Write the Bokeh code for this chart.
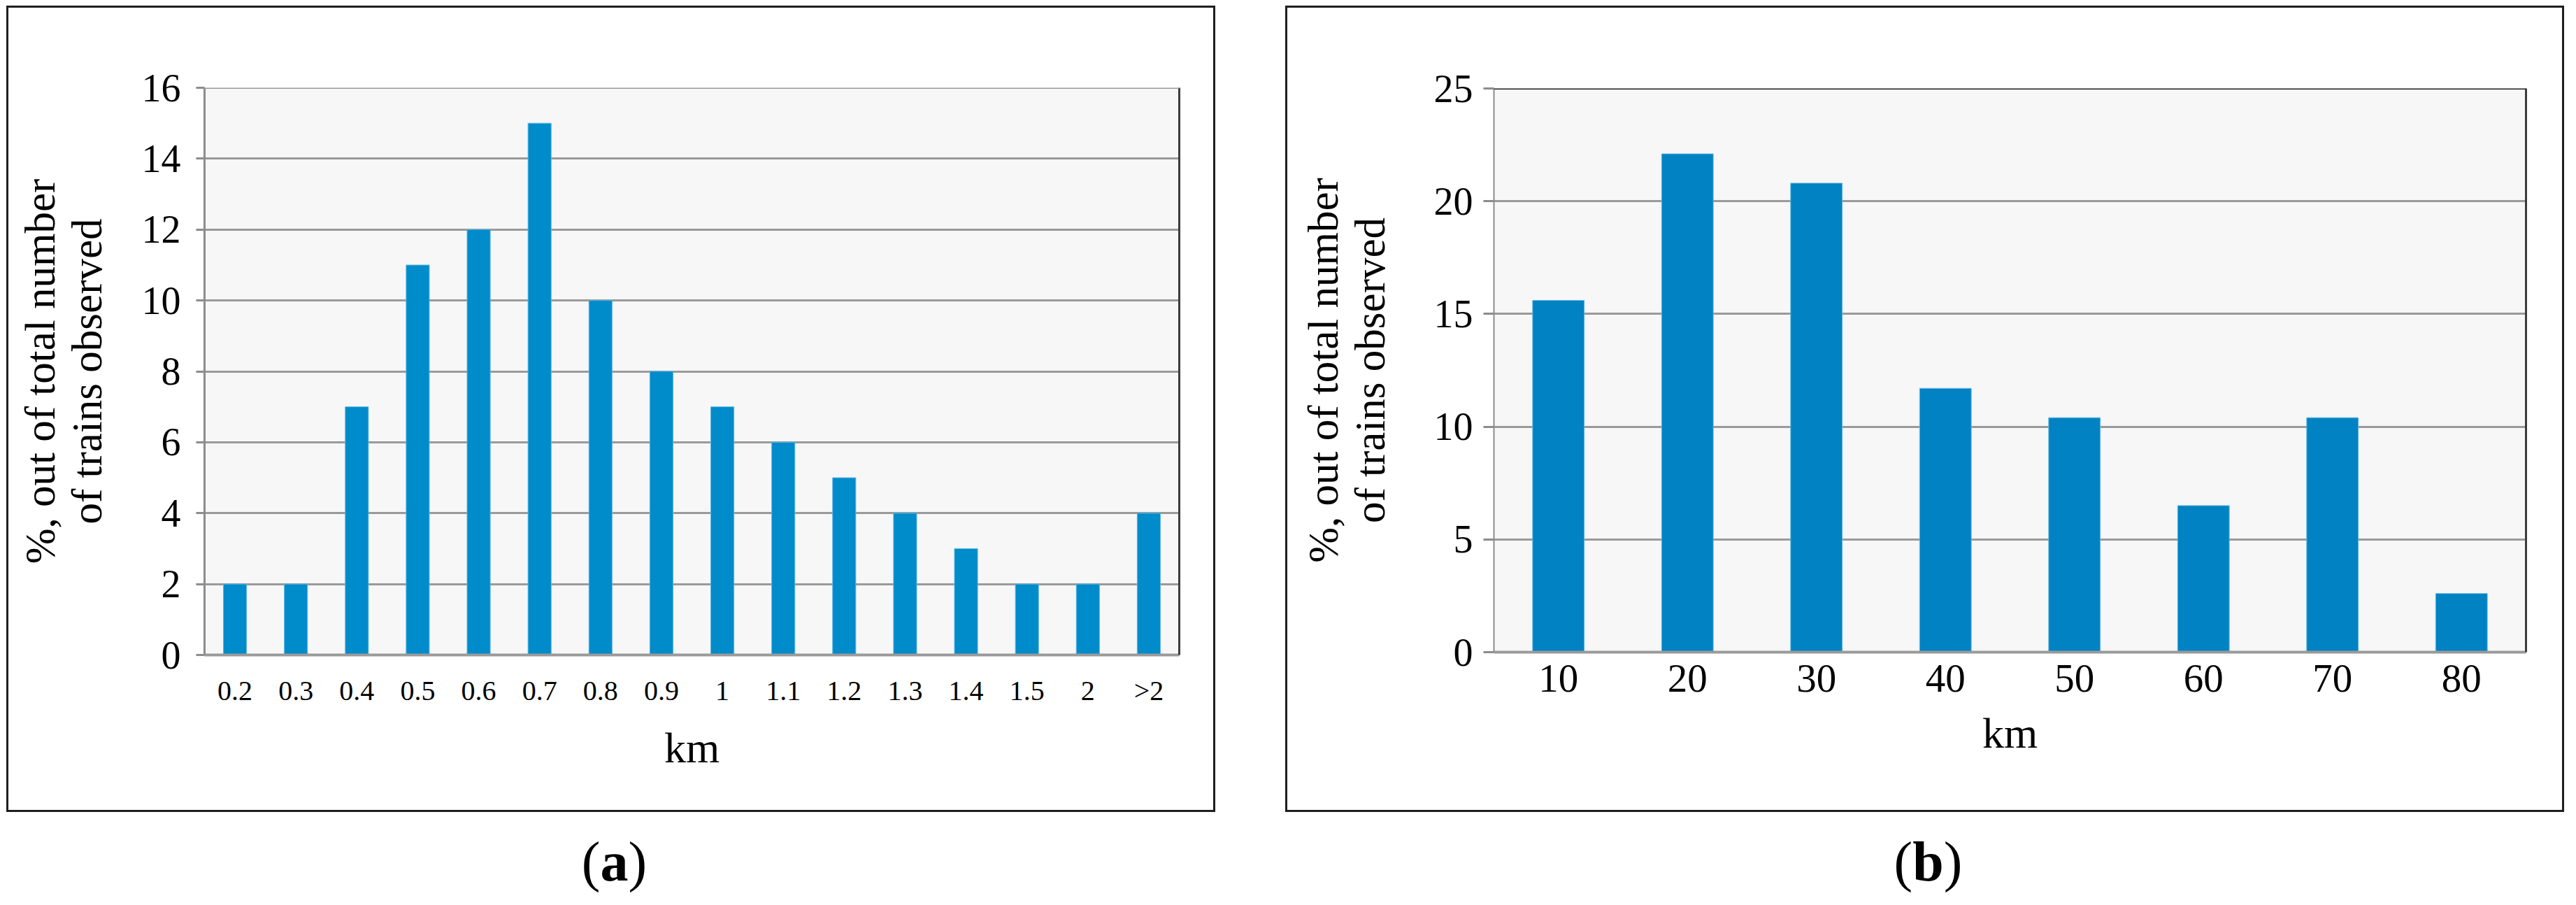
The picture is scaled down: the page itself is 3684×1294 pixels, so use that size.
from bokeh.plotting import figure
from bokeh.models import (FactorRange, Range1d, FixedTicker, LinearAxis, Span,
                          Div, Spacer, ColumnDataSource)
from bokeh.layouts import row, column
from bokeh.embed import file_html
from bokeh.resources import INLINE

# ---- data ----
cats_a = ["0.2", "0.3", "0.4", "0.5", "0.6", "0.7", "0.8", "0.9", "1",
          "1.1", "1.2", "1.3", "1.4", "1.5", "2", ">2"]
vals_a = [2, 2, 7, 11, 12, 15, 10, 8, 7, 6, 5, 4, 3, 2, 2, 4]
yticks_a = [0, 2, 4, 6, 8, 10, 12, 14, 16]

cats_b = ["10", "20", "30", "40", "50", "60", "70", "80"]
vals_b = [15.6, 22.1, 20.8, 11.7, 10.4, 6.5, 10.4, 2.6]
yticks_b = [0, 5, 10, 15, 20, 25]

y_label = "%, out of total number\nof trains observed"
x_label = "km"
captions = ["a", "b"]

FONT = "Liberation Serif"


def make_panel(cats, vals, yticks, width, height, mb_left, mb_top, mb_right, mb_bottom,
               bar_w, bar_color, xtick_size, xtick_standoff, ytick_out, ytick_standoff,
               ylab_standoff, top_color, left_w):
    p = figure(x_range=FactorRange(*cats, range_padding=0),
               y_range=Range1d(yticks[0], yticks[-1]),
               width=width, height=height, output_backend="svg", toolbar_location=None,
               min_border_left=mb_left, min_border_top=mb_top,
               min_border_right=mb_right, min_border_bottom=mb_bottom,
               background_fill_color="#f7f7f7", border_fill_color="white",
               outline_line_color=None,
               styles={"border": "3px solid #1e1e1e", "box-sizing": "border-box"})
    src = ColumnDataSource(dict(x=cats, top=vals))
    p.vbar(x="x", top="top", width=bar_w, source=src, fill_color=bar_color,
           line_color="#5fb6e3", line_width=1)

    p.xgrid.grid_line_color = None
    p.ygrid.grid_line_color = "#9a9a9a"
    p.ygrid.grid_line_width = 3
    p.yaxis.ticker = FixedTicker(ticks=yticks)

    ya = p.yaxis[0]
    ya.axis_line_color = "#8c8c8c"
    ya.axis_line_width = left_w
    ya.major_tick_line_color = "#8c8c8c"
    ya.major_tick_line_width = 3
    ya.major_tick_out = ytick_out
    ya.major_tick_in = 0
    ya.minor_tick_line_color = None
    ya.major_label_text_font = FONT
    ya.major_label_text_font_size = "56px"
    ya.major_label_text_color = "black"
    ya.major_label_standoff = ytick_standoff
    ya.axis_label = y_label
    ya.axis_label_text_font = FONT
    ya.axis_label_text_font_size = "61px"
    ya.axis_label_text_font_style = "normal"
    ya.axis_label_text_color = "black"
    ya.axis_label_text_line_height = 1.0
    ya.axis_label_standoff = ylab_standoff

    xa = p.xaxis[0]
    xa.axis_line_color = "#9a9a9a"
    xa.axis_line_width = 4
    xa.major_tick_line_color = None
    xa.minor_tick_line_color = None
    xa.major_label_text_font = FONT
    xa.major_label_text_font_size = xtick_size
    xa.major_label_text_color = "black"
    xa.major_label_standoff = xtick_standoff
    xa.axis_label = x_label
    xa.axis_label_text_font = FONT
    xa.axis_label_text_font_size = "62px"
    xa.axis_label_text_font_style = "normal"
    xa.axis_label_text_color = "black"
    xa.axis_label_standoff = 22

    # frame edges on the right and top (plain lines, no labels)
    right = LinearAxis(ticker=FixedTicker(ticks=[]), major_tick_line_color=None,
                       minor_tick_line_color=None, axis_line_color="#3c3c3c",
                       axis_line_width=3)
    p.add_layout(right, "right")
    p.add_layout(Span(location=yticks[-1], dimension="width",
                      line_color=top_color, line_width=3))
    return p


pa = make_panel(cats_a, vals_a, yticks_a, 1729, 1153, 280, 114, 55, 228,
                0.38, "#008bcb", "40px", 22, 12, 22, 42, "#9a9a9a", 3)
pb = make_panel(cats_b, vals_b, yticks_b, 1829, 1153, 295, 115, 58, 232,
                0.40, "#0082c3", "57px", 12, 15, 15, 55, "#1e1e1e", 2)


def caption(letter, width):
    html = ('<div style="width:%dpx; padding-top:26px; text-align:center; '
            'font-family:\'Liberation Serif\'; font-size:80px; line-height:1; color:black;">'
            '(<b>%s</b>)</div>' % (width, letter))
    return Div(text=html, width=width, height=108)


layout = row(Spacer(width=9),
             column(Spacer(height=8), pa, caption(captions[0], 1729)),
             Spacer(width=90),
             column(Spacer(height=8), pb, caption(captions[1], 1829)))

open("out.html", "w").write(file_html(layout, INLINE))
